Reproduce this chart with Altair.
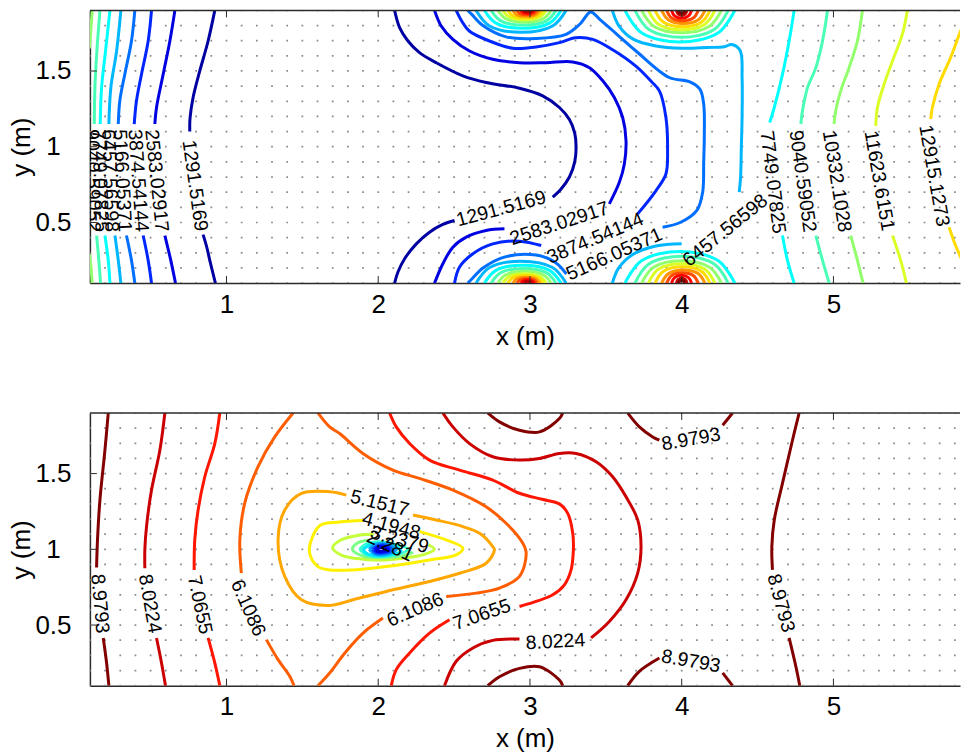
import altair as alt
import numpy as np
import pandas as pd

FONT = "Liberation Sans"
AX = "#2b2b2b"

# plot window (metres)
X_MIN, X_MAX = 0.1, 5.834
Y_MIN, Y_MAX = 0.1, 1.9
X_TICKS = [1, 2, 3, 4, 5]
Y_TICKS = [0.5, 1, 1.5]
MESH_X = np.round(np.arange(0.1, 5.85, 0.1), 1)
MESH_Y = np.round(np.arange(0.1, 1.95, 0.1), 1)

# ---------------------------------------------------------------- top panel
# contour pieces: (x, y) vertices, split where the inline label sits
T_L1_A = [(0.923, 1.9), (0.879, 1.698), (0.824, 1.50), (0.780, 1.325), (0.760, 1.19), (0.758, 1.10)]
T_L1_B = [(0.846, 0.42), (0.872, 0.33), (0.890, 0.25), (0.927, 0.1)]
T_L2_A = [(0.660, 1.9), (0.627, 1.698), (0.583, 1.479), (0.539, 1.259), (0.528, 1.15)]
T_L2_B = [(0.594, 0.414), (0.633, 0.25), (0.664, 0.1)]
T_L3_A = [(0.506, 1.9), (0.484, 1.698), (0.440, 1.479), (0.407, 1.303), (0.392, 1.15)]
T_L3_B = [(0.451, 0.414), (0.484, 0.25), (0.506, 0.1)]
T_L4_A = [(0.396, 1.9), (0.374, 1.698), (0.330, 1.479), (0.297, 1.303), (0.287, 1.15)]
T_L4_B = [(0.341, 0.414), (0.374, 0.25), (0.396, 0.1)]
T_L5_A = [(0.304, 1.9), (0.276, 1.632), (0.238, 1.391), (0.225, 1.15)]
T_L5_B = [(0.265, 0.414), (0.287, 0.25), (0.304, 0.1)]
T_L6_A = [(0.232, 1.9), (0.203, 1.632), (0.177, 1.391), (0.168, 1.15)]
T_L6_B = [(0.199, 0.414), (0.221, 0.25), (0.232, 0.1)]
T_L7_A = [(0.166, 1.9), (0.146, 1.632), (0.133, 1.391), (0.129, 1.15)]
T_L7_B = [(0.144, 0.414), (0.159, 0.25), (0.170, 0.1)]
T_L8_A = [(0.115, 1.9), (0.104, 1.742), (0.096, 1.65)]
T_L8_B = [(0.096, 0.29), (0.107, 0.206), (0.115, 0.1)]

T_M1_A = [(2.108, 1.9), (2.141, 1.786), (2.196, 1.698), (2.272, 1.621), (2.382, 1.555),
          (2.558, 1.468), (2.711, 1.424), (2.931, 1.386), (3.084, 1.336), (3.194, 1.259),
          (3.26, 1.18), (3.295, 1.09), (3.304, 1.0), (3.295, 0.90), (3.26, 0.80),
          (3.205, 0.721), (3.15, 0.667)]
T_M1_B = [(2.503, 0.513), (2.426, 0.487), (2.338, 0.436), (2.251, 0.359), (2.174, 0.261),
          (2.130, 0.173), (2.108, 0.1)]
T_M2_A = [(2.371, 1.9), (2.415, 1.797), (2.492, 1.709), (2.602, 1.632), (2.755, 1.577),
          (2.931, 1.555), (3.106, 1.555), (3.282, 1.56), (3.392, 1.522), (3.48, 1.435),
          (3.556, 1.325), (3.611, 1.193), (3.633, 1.04), (3.622, 0.886), (3.589, 0.765),
          (3.523, 0.623)]
T_M2_B = [(2.832, 0.458), (2.711, 0.447), (2.580, 0.403), (2.492, 0.337), (2.426, 0.228),
          (2.371, 0.1)]
T_M3_A = [(2.514, 1.9), (2.55, 1.83), (2.60, 1.764), (2.733, 1.698), (2.887, 1.65),
          (3.05, 1.66), (3.194, 1.687), (3.30, 1.72), (3.414, 1.709), (3.545, 1.64),
          (3.70, 1.53), (3.80, 1.43), (3.853, 1.369), (3.896, 1.193), (3.907, 0.974),
          (3.896, 0.820), (3.831, 0.711), (3.710, 0.557)]
T_M3_B = [(3.074, 0.348), (2.931, 0.377), (2.755, 0.359), (2.624, 0.294), (2.536, 0.206),
          (2.503, 0.1)]
T_M4_A = [(2.59, 1.9), (2.62, 1.87), (2.69, 1.80), (2.843, 1.725), (3.04, 1.715),
          (3.238, 1.742), (3.33, 1.81), (3.40, 1.89), (3.46, 1.84), (3.523, 1.786),
          (3.699, 1.632), (3.918, 1.457), (4.05, 1.43), (4.12, 1.38), (4.145, 1.28),
          (4.149, 1.084), (4.145, 0.9), (4.138, 0.70), (4.10, 0.58), (3.99, 0.50),
          (3.874, 0.469)]
T_M4_B = [(3.24, 0.16), (3.17, 0.235), (3.04, 0.285), (2.843, 0.275), (2.69, 0.2),
          (2.62, 0.13), (2.59, 0.1)]
T_M5_A = [(3.543, 1.9), (3.585, 1.80), (3.68, 1.71), (3.83, 1.665), (4.0, 1.65),
          (4.17, 1.655), (4.28, 1.66), (4.33, 1.675), (4.385, 1.635), (4.398, 1.45),
          (4.398, 1.2), (4.393, 1.0), (4.388, 0.80), (4.379, 0.70)]
T_M5_B = [(4.0, 0.36), (3.83, 0.345), (3.68, 0.29), (3.585, 0.20), (3.543, 0.1)]

T_R6_A = [(4.741, 1.9), (4.708, 1.698), (4.664, 1.478), (4.61, 1.259), (4.58, 1.16)]
T_R6_B = [(4.664, 0.414), (4.697, 0.25), (4.741, 0.1)]
T_R7_A = [(4.961, 1.9), (4.928, 1.698), (4.884, 1.522), (4.829, 1.39), (4.796, 1.237), (4.785, 1.15)]
T_R7_B = [(4.884, 0.414), (4.928, 0.25), (4.972, 0.1)]
T_R8_A = [(5.191, 1.9), (5.158, 1.698), (5.103, 1.522), (5.048, 1.369), (5.015, 1.237), (5.004, 1.15)]
T_R8_B = [(5.114, 0.414), (5.158, 0.25), (5.195, 0.1)]
T_R9_A = [(5.487, 1.9), (5.454, 1.742), (5.389, 1.566), (5.334, 1.413), (5.290, 1.259), (5.279, 1.138)]
T_R9_B = [(5.389, 0.414), (5.443, 0.25), (5.481, 0.1)]
T_R10_A = [(5.88, 1.86), (5.834, 1.753), (5.772, 1.588), (5.696, 1.413), (5.652, 1.259), (5.641, 1.182)]
T_R10_B = [(5.762, 0.469), (5.805, 0.348), (5.838, 0.272), (5.88, 0.17)]

# rings round the source at x = 3 on the lower edge (mirrored onto the upper edge)
P3_LEVELS = ["6457.56598", "7749.07825", "9040.59052", "10332.1028", "11623.6151",
             "12915.1273", "14206.66", "15498.18", "16789.69", "18081.20"]
P3_RING_X = [[2.645, 2.734, 2.942, 3.149, 3.238],
             [2.700, 2.776, 2.953, 3.129, 3.205],
             [2.744, 2.808, 2.958, 3.108, 3.172],
             [2.788, 2.841, 2.964, 3.087, 3.140],
             [2.821, 2.864, 2.964, 3.064, 3.107],
             [2.854, 2.889, 2.970, 3.050, 3.085],
             [2.887, 2.913, 2.975, 3.037, 3.063],
             [2.915, 2.935, 2.980, 3.025, 3.045],
             [2.940, 2.954, 2.985, 3.016, 3.030],
             [2.960, 2.968, 2.988, 3.007, 3.015]]
P3_RING_Y = [[0.1, 0.203, 0.245, 0.203, 0.1],
             [0.1, 0.184, 0.218, 0.184, 0.1],
             [0.1, 0.169, 0.197, 0.169, 0.1],
             [0.1, 0.155, 0.178, 0.155, 0.1],
             [0.1, 0.144, 0.162, 0.144, 0.1],
             [0.1, 0.136, 0.150, 0.136, 0.1],
             [0.1, 0.128, 0.139, 0.128, 0.1],
             [0.1, 0.121, 0.129, 0.121, 0.1],
             [0.1, 0.114, 0.120, 0.114, 0.1],
             [0.1, 0.108, 0.111, 0.108, 0.1]]
# rings round the source at x = 4 on the lower edge (mirrored onto the upper edge)
P4_LEVELS = ["7749.07825", "9040.59052", "10332.1028", "11623.6151", "12915.1273",
             "14206.66", "15498.18", "16789.69", "18081.20", "19372.72"]
P4_RING_X = [[3.626, 3.735, 3.988, 4.241, 4.350],
             [3.692, 3.784, 3.999, 4.214, 4.306],
             [3.736, 3.815, 3.999, 4.183, 4.262],
             [3.780, 3.846, 4.000, 4.153, 4.219],
             [3.824, 3.878, 4.005, 4.132, 4.186],
             [3.868, 3.911, 4.010, 4.110, 4.153],
             [3.901, 3.932, 4.005, 4.078, 4.109],
             [3.933, 3.953, 3.999, 4.045, 4.065],
             [3.965, 3.976, 4.000, 4.024, 4.035],
             [3.980, 3.986, 4.000, 4.014, 4.020]]
P4_RING_Y = [[0.1, 0.248, 0.309, 0.248, 0.1],
             [0.1, 0.226, 0.278, 0.226, 0.1],
             [0.1, 0.204, 0.247, 0.204, 0.1],
             [0.1, 0.191, 0.228, 0.191, 0.1],
             [0.1, 0.177, 0.208, 0.177, 0.1],
             [0.1, 0.162, 0.187, 0.162, 0.1],
             [0.1, 0.149, 0.169, 0.149, 0.1],
             [0.1, 0.136, 0.151, 0.136, 0.1],
             [0.1, 0.123, 0.132, 0.123, 0.1],
             [0.1, 0.113, 0.118, 0.113, 0.1]]

TOP_PIECES = [
    ("1291.5169", T_L1_A), ("1291.5169", T_L1_B), ("2583.02917", T_L2_A), ("2583.02917", T_L2_B),
    ("3874.54144", T_L3_A), ("3874.54144", T_L3_B), ("5166.05371", T_L4_A), ("5166.05371", T_L4_B),
    ("6457.56598", T_L5_A), ("6457.56598", T_L5_B), ("7749.07825", T_L6_A), ("7749.07825", T_L6_B),
    ("9040.59052", T_L7_A), ("9040.59052", T_L7_B), ("10332.1028", T_L8_A), ("10332.1028", T_L8_B),
    ("1291.5169", T_M1_A), ("1291.5169", T_M1_B), ("2583.02917", T_M2_A), ("2583.02917", T_M2_B),
    ("3874.54144", T_M3_A), ("3874.54144", T_M3_B), ("5166.05371", T_M4_A), ("5166.05371", T_M4_B),
    ("6457.56598", T_M5_A), ("6457.56598", T_M5_B),
    ("7749.07825", T_R6_A), ("7749.07825", T_R6_B), ("9040.59052", T_R7_A), ("9040.59052", T_R7_B),
    ("10332.1028", T_R8_A), ("10332.1028", T_R8_B), ("11623.6151", T_R9_A), ("11623.6151", T_R9_B),
    ("12915.1273", T_R10_A), ("12915.1273", T_R10_B),
]
for levels, xs, ys in ((P3_LEVELS, P3_RING_X, P3_RING_Y), (P4_LEVELS, P4_RING_X, P4_RING_Y)):
    for lab, rx, ry in zip(levels, xs, ys):
        TOP_PIECES.append((lab, list(zip(rx, ry))))
        TOP_PIECES.append((lab, [(x, 2.0 - y) for x, y in zip(rx, ry)]))

TOP_LABEL_TEXT = ["1291.5169", "2583.02917", "3874.54144", "5166.05371", "6457.56598",
                  "7749.07825", "9040.59052",
                  "1291.5169", "2583.02917", "3874.54144", "5166.05371", "6457.56598",
                  "7749.07825", "9040.59052", "10332.1028", "11623.6151", "12915.1273"]
TOP_LABEL_X = [0.791, 0.539, 0.418, 0.313, 0.232, 0.166, 0.118,
               2.81, 3.194, 3.431, 3.556, 4.287,
               4.60, 4.796, 5.022, 5.301, 5.663]
TOP_LABEL_Y = [0.743, 0.776, 0.776, 0.776, 0.776, 0.776, 0.776,
               0.59, 0.493, 0.395, 0.29, 0.447,
               0.765, 0.772, 0.772, 0.776, 0.809]
TOP_LABEL_ANGLE = [82, 84, 86, 87, 88, 88, 89,
                   -15, -18, -23, -24, -39,
                   83, 82, 81, 80, 80]

# ------------------------------------------------------------- bottom panel
B_L9_A = [(0.221, 1.9), (0.199, 1.654), (0.166, 1.325), (0.150, 1.062), (0.144, 0.88)]
B_L9_B = [(0.188, 0.415), (0.210, 0.25), (0.225, 0.1)]
B_L8_A = [(0.594, 1.9), (0.561, 1.654), (0.506, 1.391), (0.473, 1.15), (0.462, 0.996), (0.462, 0.875)]
B_L8_B = [(0.539, 0.415), (0.572, 0.25), (0.598, 0.1)]
B_L7_A = [(0.956, 1.9), (0.923, 1.698), (0.857, 1.479), (0.813, 1.259), (0.791, 1.062), (0.787, 0.864)]
B_L7_B = [(0.879, 0.415), (0.923, 0.25), (0.956, 0.1)]
B_L6_A = [(1.439, 1.9), (1.318, 1.742), (1.208, 1.545), (1.120, 1.303), (1.088, 1.062), (1.098, 0.843)]
B_L6_B = [(1.263, 0.404), (1.340, 0.272), (1.417, 0.162), (1.445, 0.1)]

B_M6_A = [(1.603, 1.9), (1.680, 1.808), (1.746, 1.764), (1.899, 1.633), (2.097, 1.523),
          (2.272, 1.468), (2.492, 1.391), (2.711, 1.281), (2.843, 1.172), (2.953, 1.040),
          (2.975, 0.974), (2.931, 0.821), (2.799, 0.744), (2.645, 0.711), (2.448, 0.689)]
B_M6_B = [(2.031, 0.546), (1.90, 0.447), (1.78, 0.316), (1.68, 0.184), (1.603, 0.1)]
B_M5 = [(2.229, 1.227), (2.382, 1.194), (2.558, 1.150), (2.668, 1.106), (2.755, 1.018),
        (2.766, 0.996), (2.711, 0.908), (2.536, 0.842), (2.338, 0.788), (2.053, 0.722),
        (1.834, 0.667), (1.680, 0.63), (1.494, 0.667), (1.384, 0.821), (1.340, 1.062),
        (1.384, 1.259), (1.494, 1.369), (1.680, 1.380), (1.790, 1.358)]
B_M4 = [(2.272, 1.117), (2.448, 1.062), (2.558, 1.007), (2.514, 0.963), (2.338, 0.930),
        (2.053, 0.886), (1.834, 0.864), (1.680, 0.864), (1.603, 0.886), (1.548, 0.974),
        (1.559, 1.062), (1.62, 1.16), (1.746, 1.18), (1.90, 1.19)]
B_M3 = [(2.33, 1.03), (2.37, 1.0), (2.30, 0.965), (2.15, 0.94), (2.05, 0.93), (1.90, 0.935),
        (1.76, 0.96), (1.70, 1.01), (1.75, 1.06), (1.88, 1.095), (1.97, 1.10)]
B_M2 = [(2.23, 0.98), (2.15, 0.955), (2.02, 0.945), (1.90, 0.955), (1.83, 1.0), (1.86, 1.04), (1.93, 1.06)]
B_M1 = [(1.877, 1.0), (1.92, 1.035), (2.0, 1.05), (2.1, 1.035), (2.196, 1.0), (2.12, 0.965),
        (2.0, 0.952), (1.92, 0.965), (1.877, 1.0)]
B_M0 = [(1.90, 1.0), (1.95, 1.03), (2.03, 1.04), (2.12, 1.015), (2.15, 0.99), (2.08, 0.962),
        (1.98, 0.958), (1.92, 0.975), (1.90, 1.0)]
B_MN1 = [(1.94, 1.0), (1.98, 1.03), (2.05, 1.035), (2.12, 1.0), (2.06, 0.968), (1.98, 0.968), (1.94, 1.0)]
B_MN2 = [(1.96, 1.0), (2.0, 1.025), (2.06, 1.025), (2.09, 0.995), (2.04, 0.975), (1.98, 0.978), (1.96, 1.0)]
B_MN3 = [(1.975, 1.0), (2.01, 1.02), (2.05, 1.015), (2.07, 0.995), (2.03, 0.982), (1.99, 0.985), (1.975, 1.0)]
B_MN4 = [(1.99, 1.0), (2.015, 1.012), (2.04, 1.008), (2.05, 0.995), (2.02, 0.988), (1.995, 0.99), (1.99, 1.0)]

B_M7_A = [(2.075, 1.9), (2.119, 1.808), (2.207, 1.698), (2.338, 1.589), (2.536, 1.523),
          (2.755, 1.457), (2.931, 1.37), (3.08, 1.33), (3.194, 1.30), (3.249, 1.237),
          (3.282, 1.106), (3.286, 0.996), (3.271, 0.864), (3.227, 0.766), (3.15, 0.70),
          (2.931, 0.623)]
B_M7_B = [(2.470, 0.535), (2.338, 0.447), (2.207, 0.316), (2.119, 0.206), (2.086, 0.1)]
B_M8_A = [(2.426, 1.9), (2.492, 1.808), (2.602, 1.698), (2.755, 1.611), (2.931, 1.589),
          (3.063, 1.60), (3.194, 1.633), (3.304, 1.633), (3.436, 1.578), (3.545, 1.479),
          (3.633, 1.347), (3.710, 1.194), (3.732, 1.018), (3.710, 0.843), (3.633, 0.667),
          (3.523, 0.524), (3.403, 0.415)]
B_M8_B = [(2.931, 0.408), (2.755, 0.399), (2.624, 0.349), (2.514, 0.261), (2.437, 0.1)]
B_T9_1 = [(2.722, 1.9), (2.799, 1.841), (2.931, 1.786), (3.063, 1.775), (3.194, 1.863), (3.216, 1.9)]
B_B9_1 = [(2.722, 0.1), (2.799, 0.159), (2.931, 0.214), (3.063, 0.225), (3.194, 0.137), (3.216, 0.1)]
B_T9_2_A = [(3.644, 1.9), (3.721, 1.808), (3.809, 1.742), (3.853, 1.72)]
B_T9_2_B = [(4.27, 1.819), (4.335, 1.9)]
B_B9_2_A = [(3.644, 0.1), (3.721, 0.195), (3.853, 0.283)]
B_B9_2_B = [(4.27, 0.184), (4.335, 0.1)]
B_R9_A = [(4.774, 1.9), (4.730, 1.72), (4.664, 1.435), (4.61, 1.194), (4.594, 1.018), (4.598, 0.864)]
B_R9_B = [(4.708, 0.415), (4.752, 0.228), (4.778, 0.1)]

BOT_PIECES = [
    ("8.9793", B_L9_A), ("8.9793", B_L9_B), ("8.0224", B_L8_A), ("8.0224", B_L8_B),
    ("7.0655", B_L7_A), ("7.0655", B_L7_B), ("6.1086", B_L6_A), ("6.1086", B_L6_B),
    ("6.1086", B_M6_A), ("6.1086", B_M6_B), ("5.1517", B_M5), ("4.1948", B_M4),
    ("3.2379", B_M3), ("2.281", B_M2), ("1.3241", B_M1), ("0.3672", B_M0),
    ("-0.5897", B_MN1), ("-1.5466", B_MN2), ("-2.5035", B_MN3), ("-3.4604", B_MN4),
    ("7.0655", B_M7_A), ("7.0655", B_M7_B), ("8.0224", B_M8_A), ("8.0224", B_M8_B),
    ("8.9793", B_T9_1), ("8.9793", B_B9_1), ("8.9793", B_T9_2_A), ("8.9793", B_T9_2_B),
    ("8.9793", B_B9_2_A), ("8.9793", B_B9_2_B), ("8.9793", B_R9_A), ("8.9793", B_R9_B),
]

BOT_LABEL_TEXT = ["8.9793", "8.0224", "7.0655", "6.1086", "5.1517", "4.1948", "3.2379", "2.281",
                  "6.1086", "7.0655", "8.0224", "8.9793", "8.9793", "8.9793"]
BOT_LABEL_X = [0.166, 0.495, 0.824, 1.142, 2.009, 2.086, 2.141, 2.079,
               2.244, 2.683, 3.168, 4.061, 4.061, 4.653]
BOT_LABEL_Y = [0.641, 0.641, 0.634, 0.612, 1.303, 1.154, 1.062, 1.022,
               0.601, 0.568, 0.390, 1.725, 0.261, 0.645]
BOT_LABEL_ANGLE = [85, 80, 78, 66, 14, 15, 15, 25,
                   -23, -19, -3, -10, 10, 75]

# jet colour map and the value span it covers in each panel
JET = ["#000090", "#0000ff", "#00ffff", "#ffff00", "#ff0000", "#800000"]
TOP_CRANGE = (928.0, 19090.0)
BOT_CRANGE = (-4.33, 9.0)

W, H = 871, 273


def jet_scale(lo, hi):
    s = hi - lo
    stops = [lo, lo + 0.125 * s, lo + 0.375 * s, lo + 0.625 * s, lo + 0.875 * s, hi]
    return alt.Scale(domain=stops, range=JET, interpolate="rgb", clamp=True)


def pieces_frame(pieces):
    rows = []
    for pid, (lab, pts) in enumerate(pieces):
        for i, (x, y) in enumerate(pts):
            rows.append({"pid": pid, "i": i, "x": x, "y": y, "level": float(lab)})
    return pd.DataFrame(rows)


def labels_frame(texts, xs, ys, angs):
    return pd.DataFrame({"label": texts, "x": xs, "y": ys,
                         "ang": [a % 360 for a in angs]})


mesh = pd.DataFrame([(x, y) for x in MESH_X for y in MESH_Y], columns=["x", "y"])
xscale = alt.Scale(domain=[X_MIN, X_MAX], nice=False, zero=False)
yscale = alt.Scale(domain=[Y_MIN, Y_MAX], nice=False, zero=False)
xaxis = alt.Axis(values=X_TICKS, format="~g", title="x (m)", grid=False,
                 ticks=False, tickSize=0, domain=True, domainColor=AX,
                 domainWidth=1.5, labelPadding=8, titlePadding=6)
yaxis = alt.Axis(values=Y_TICKS, format="~g", title="y (m)", grid=False,
                 ticks=False, tickSize=0, domain=True, domainColor=AX,
                 domainWidth=1.5, labelPadding=37, labelAlign="center", titlePadding=0)


def X(field):
    return alt.X(field, scale=xscale, axis=xaxis, title="x (m)")


def Y(field):
    return alt.Y(field, scale=yscale, axis=yaxis, title="y (m)")


def panel(pieces, texts, xs, ys, angs, crange):
    dots = alt.Chart(mesh).mark_square(size=3, color="#8a8a8a", opacity=1, clip=True).encode(
        x=X("x:Q"), y=Y("y:Q"))
    lines = alt.Chart(pieces_frame(pieces)).mark_line(
        strokeWidth=3, interpolate="catmull-rom", clip=True, strokeJoin="round"
    ).encode(
        x=X("x:Q"), y=Y("y:Q"),
        color=alt.Color("level:Q", scale=jet_scale(*crange), legend=None),
        detail="pid:N",
        order="i:Q",
    )
    text = alt.Chart(labels_frame(texts, xs, ys, angs)).mark_text(
        font=FONT, fontSize=19.5, color="black", clip=True, align="center", baseline="middle"
    ).encode(
        x=X("x:Q"), y=Y("y:Q"),
        text="label:N",
        angle=alt.Angle("ang:Q", scale=None),
    )
    one = pd.DataFrame({"k": [0]})
    top_edge = alt.Chart(one).mark_rule(color=AX, strokeWidth=1.5).encode(
        x=alt.value(0), x2=alt.value(W), y=alt.value(0))
    xt = pd.DataFrame({"x": X_TICKS})
    yt = pd.DataFrame({"y": Y_TICKS})
    ticks_bottom = alt.Chart(xt).mark_rule(color=AX, strokeWidth=1).encode(
        x=X("x:Q"), y=alt.value(H), y2=alt.value(H - 7))
    ticks_top = alt.Chart(xt).mark_rule(color=AX, strokeWidth=1).encode(
        x=X("x:Q"), y=alt.value(0), y2=alt.value(7))
    ticks_left = alt.Chart(yt).mark_rule(color=AX, strokeWidth=1).encode(
        y=Y("y:Q"), x=alt.value(0), x2=alt.value(7))
    return alt.layer(dots, lines, text, top_edge, ticks_bottom, ticks_top, ticks_left).properties(
        width=W, height=H)


top = panel(TOP_PIECES, TOP_LABEL_TEXT, TOP_LABEL_X, TOP_LABEL_Y, TOP_LABEL_ANGLE, TOP_CRANGE)
bottom = panel(BOT_PIECES, BOT_LABEL_TEXT, BOT_LABEL_X, BOT_LABEL_Y, BOT_LABEL_ANGLE, BOT_CRANGE)

chart = alt.vconcat(top, bottom, spacing=130, bounds="flush").resolve_scale(
    color="independent"
).properties(
    padding={"left": 8, "top": 9, "right": 0, "bottom": 2}
).configure_view(stroke=None).configure_axis(
    labelFont=FONT, titleFont=FONT, labelFontSize=26, titleFontSize=26,
    labelColor="black", titleColor="black", titleFontWeight="normal"
)

chart.save("out.html", embed_options={"renderer": "svg", "actions": False})
